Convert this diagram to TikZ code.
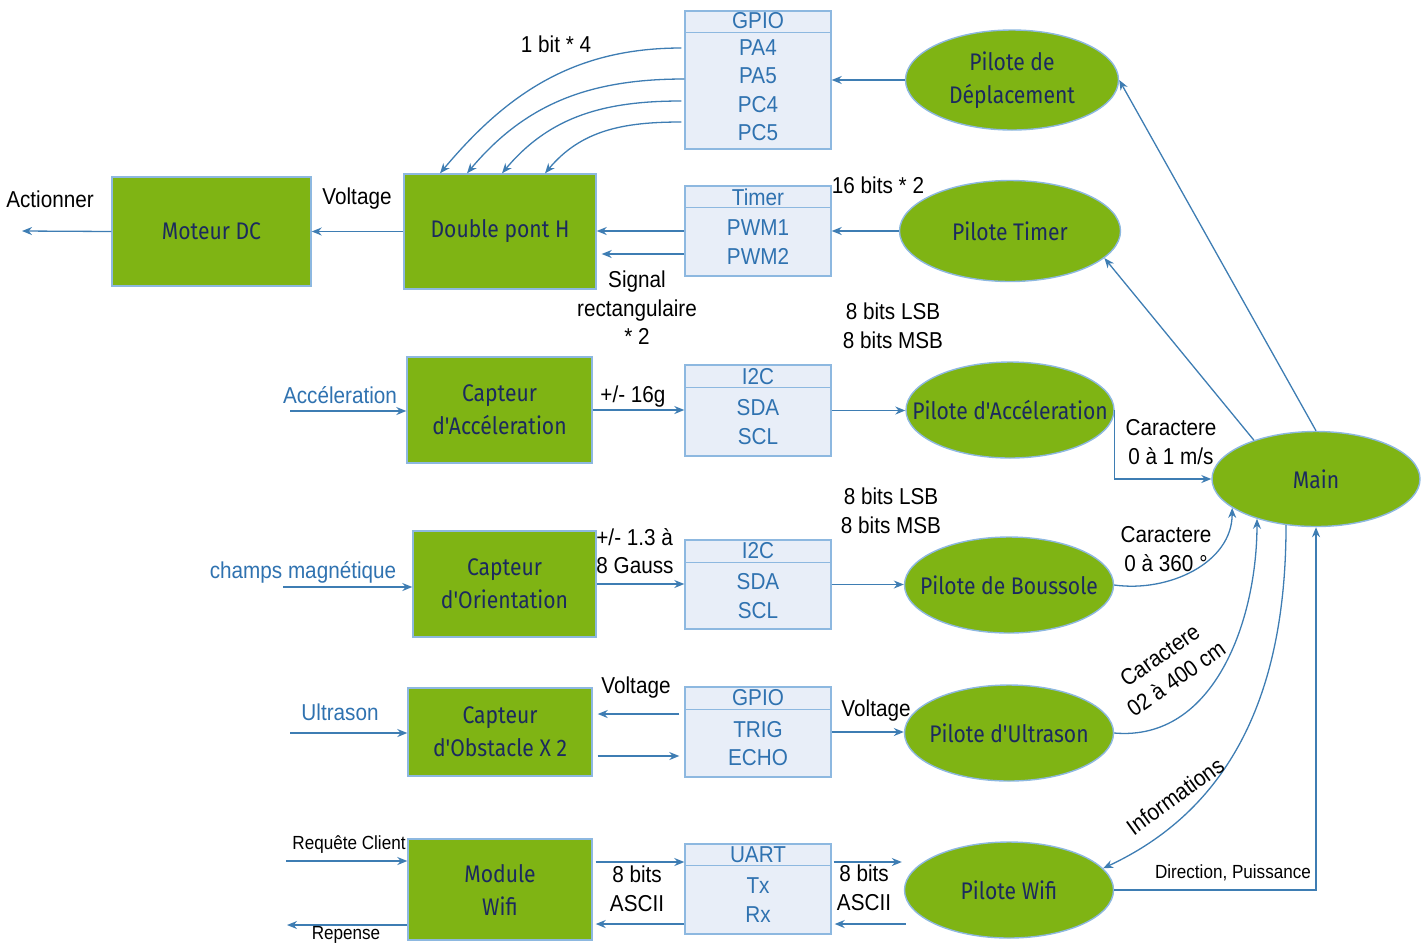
\documentclass[tikz,border=0pt]{standalone}
\usepackage{fontspec}
\setmainfont{Liberation Sans}[FakeStretch=0.9]
\newfontfamily\greenfont{Fira Sans}[FakeStretch=0.88]
\usetikzlibrary{shapes.geometric,arrows.meta,calc}
\definecolor{leaf}{HTML}{7FB414}
\definecolor{navy}{HTML}{1B2A5E}
\definecolor{edgeblue}{HTML}{8DB8E0}
\definecolor{portfill}{HTML}{E8EEF8}
\definecolor{portblue}{HTML}{2F72B0}
\definecolor{wire}{HTML}{3E7DB3}
\tikzset{
  greentxt/.style={text=navy, align=center, inner sep=0pt,
    font=\greenfont\fontsize{12}{16.5}\selectfont},
  greenbox/.style={draw=edgeblue, fill=leaf, line width=0.7pt, inner sep=0pt, greentxt},
  greenell/.style={draw=edgeblue, fill=leaf, line width=0.7pt, inner sep=0pt, ellipse,
    label={[greentxt]center:#1}},
  portbox/.style={draw=edgeblue, fill=portfill, line width=0.7pt, inner sep=0pt, minimum width=73pt},
  portline/.style={draw=edgeblue, line width=0.7pt},
  porttxt/.style={text=portblue, align=center, inner sep=0pt, font=\fontsize{11.5}{14.25}\selectfont},
  lbl/.style={align=center, inner sep=0pt, font=\fontsize{11.5}{14.25}\selectfont},
  bluelbl/.style={lbl, text=portblue},
  smalllbl/.style={inner sep=0pt, font=\fontsize{9.5}{11}\selectfont},
  arr/.style={draw=wire, line width=0.65pt, -{Stealth[length=5pt,width=4pt]}},
}
\begin{document}
\begin{tikzpicture}[x=0.5pt,y=-0.5pt]
\useasboundingbox (0,0) rectangle (1428,944);

% ---------- green blocks ----------
\node[greenbox, minimum width=99.5pt, minimum height=54.5pt] (moteur) at (211.5,231.5) {Moteur DC};
\node[greenbox, minimum width=96pt, minimum height=57.5pt] (pont) at (500,231.5) {Double pont H};
\node[greenbox, minimum width=92.5pt, minimum height=53pt] (accel) at (499.5,410) {Capteur\\d'Accéleration};
\node[greenbox, minimum width=91.5pt, minimum height=53pt] (orient) at (504.5,584) {Capteur\\d'Orientation};
\node[greenbox, minimum width=92pt, minimum height=44pt] (obst) at (500,732) {Capteur\\d'Obstacle X 2};
\node[greenbox, minimum width=92pt, minimum height=50.5pt] (wifi) at (500,889.5) {Module\\Wifi};

% ---------- drivers (ellipses, text set as centred label) ----------
\node[greenell={Pilote de\\Déplacement}, minimum width=106.5pt, minimum height=50pt] (pDep) at (1012,80) {};
\node[greenell={Pilote Timer}, minimum width=110.5pt, minimum height=50.5pt] (pTimer) at (1010,231) {};
\node[greenell={Pilote d'Accéleration}, minimum width=104pt, minimum height=48pt] (pAcc) at (1010,410) {};
\node[greenell={Main}, minimum width=104pt, minimum height=47.5pt] (main) at (1316,479) {};
\node[greenell={Pilote de Boussole}, minimum width=104.5pt, minimum height=48pt] (pBous) at (1009,585) {};
\node[greenell={Pilote d'Ultrason}, minimum width=104.5pt, minimum height=48pt] (pUltra) at (1009,733) {};
\node[greenell={Pilote Wifi}, minimum width=104.5pt, minimum height=48pt] (pWifi) at (1009,890) {};

% ---------- peripheral boxes ----------
\node[portbox, minimum height=69pt] (gpioA) at (758,80) {};
\draw[portline] ($(gpioA.north west)+(0,22)$) -- ($(gpioA.north east)+(0,22)$);
\node[porttxt] at (758,21) {GPIO};
\node[porttxt] at (758,90) {PA4\\PA5\\PC4\\PC5};

\node[portbox, minimum height=45pt] (timer) at (758,231) {};
\draw[portline] ($(timer.north west)+(0,22)$) -- ($(timer.north east)+(0,22)$);
\node[porttxt] at (758,197) {Timer};
\node[porttxt] at (758,242) {PWM1\\PWM2};

\node[portbox, minimum height=45.5pt] (i2cA) at (758,410.5) {};
\draw[portline] ($(i2cA.north west)+(0,23)$) -- ($(i2cA.north east)+(0,23)$);
\node[porttxt] at (758,377) {I2C};
\node[porttxt] at (758,422) {SDA\\SCL};

\node[portbox, minimum height=44.5pt] (i2cB) at (758,584.5) {};
\draw[portline] ($(i2cB.north west)+(0,23)$) -- ($(i2cB.north east)+(0,23)$);
\node[porttxt] at (758,551) {I2C};
\node[porttxt] at (758,596) {SDA\\SCL};

\node[portbox, minimum height=45pt] (gpioB) at (758,732) {};
\draw[portline] ($(gpioB.north west)+(0,23)$) -- ($(gpioB.north east)+(0,23)$);
\node[porttxt] at (758,698) {GPIO};
\node[porttxt] at (758,743.5) {TRIG\\ECHO};

\node[portbox, minimum height=45pt] (uart) at (758,889) {};
\draw[portline] ($(uart.north west)+(0,22)$) -- ($(uart.north east)+(0,22)$);
\node[porttxt] at (758,855) {UART};
\node[porttxt] at (758,900) {Tx\\Rx};

% ---------- free ends ----------
\coordinate (actOut) at (22,231);
\coordinate (accIn) at (290,411);
\coordinate (magIn) at (283,587);
\coordinate (usIn) at (290,733);
\coordinate (reqIn) at (286,861);
\coordinate (repOut) at (287,925);
\coordinate (rowTx) at (0,862);
\coordinate (rowRx) at (0,924);

% ---------- motor chain ----------
\draw[arr] (moteur.west) -- (actOut);
\draw[arr] (pont.west) -- (pont.west -| moteur.east);
\draw[arr] (timer.west) -- (timer.west -| pont.east);
\draw[arr] ($(timer.west)+(0,23)$) -- ($(timer.west -| pont.east)+(5,23)$);
\draw[arr] (pTimer.west) -- (timer.east);
\draw[arr] (pDep.west) -- (pDep.west -| gpioA.east);
\draw[arr] ($(gpioA.west)+(-3,-32)$) to[out=180,in=50] ($(pont.north)+(-60,0)$);
\draw[arr] ($(gpioA.west)+(0,-1)$) to[out=180,in=50] ($(pont.north)+(-33,0)$);
\draw[arr] ($(gpioA.west)+(-3,21)$) to[out=180,in=50] ($(pont.north)+(2,0)$);
\draw[arr] ($(gpioA.west)+(-3,42)$) to[out=180,in=50] ($(pont.north)+(45,0)$);

% ---------- accelerometer ----------
\draw[arr] (accIn) -- (accIn -| accel.west);
\draw[arr] (accel.east) -- (accel.east -| i2cA.west);
\draw[arr] (i2cA.east) -- (i2cA.east -| pAcc.west);
\draw[arr] (pAcc.east) |- (main.west);

% ---------- compass ----------
\draw[arr] (magIn) -- (magIn -| orient.west);
\draw[arr] (orient.east) -- (orient.east -| i2cB.west);
\draw[arr] (i2cB.east) -- (i2cB.east -| pBous.west);
\draw[arr] (pBous.east) to[out=-8,in=270] (main.199);

% ---------- ultrasound ----------
\draw[arr] (usIn) -- (usIn -| obst.west);
\draw[arr] ($(gpioB.west)+(-5,-18)$) -- ($(obst.east)+(5,-18)$);
\draw[arr] ($(obst.east)+(5,24)$) -- ($(gpioB.west)+(-5,24)$);
\draw[arr] (gpioB.east) -- (gpioB.east -| pUltra.west);
\draw[arr] (pUltra.east) to[out=-5,in=270] (main.214);

% ---------- wifi ----------
\draw[arr] (reqIn) -- (reqIn -| wifi.west);
\draw[arr] (wifi.west |- repOut) -- (repOut);
\draw[arr] ($(wifi.east |- rowTx)+(3,0)$) -- (uart.west |- rowTx);
\draw[arr] (uart.west |- rowRx) -- ($(wifi.east |- rowRx)+(3,0)$);
\draw[arr] ($(uart.east |- rowTx)+(2,0)$) -- ($(pWifi.west |- rowTx)+(-2,0)$);
\draw[arr] ($(pWifi.west |- rowRx)+(2,0)$) -- ($(uart.east |- rowRx)+(3,0)$);
\draw[arr] (main.237) to[out=270,in=25] (pWifi.13);
\draw[arr] (pWifi.east) -| (main.south);

% ---------- main to drivers ----------
\draw[arr] (main.north) -- (pDep.east);
\draw[arr] (main.148) -- (pTimer.-16);

% ---------- labels ----------
\node[lbl] at (50,199) {Actionner};
\node[lbl] at (357,199) {Voltage};
\node[lbl] at (556,44) {1 bit * 4};
\node[lbl] at (878,185) {16 bits * 2};
\node[lbl] at (637,308) {Signal\\rectangulaire\\* 2};
\node[lbl] at (893,326) {8 bits LSB\\8 bits MSB};
\node[bluelbl] at (340,395) {Accéleration};
\node[lbl] at (633,397) {+/- 16g};
\node[lbl] at (1171,442) {Caractere\\0 à 1 m/s};
\node[lbl] at (891,511) {8 bits LSB\\8 bits MSB};
\node[bluelbl] at (303,572) {champs magnétique};
\node[lbl, align=left, anchor=west] at (596,551) {+/- 1.3 à\\8 Gauss};
\node[lbl] at (1166,549) {Caractere\\0 à 360 °};
\node[lbl, rotate=35] at (1168,667) {Caractere\\02 à 400 cm};
\node[bluelbl] at (340,712) {Ultrason};
\node[lbl] at (636,688) {Voltage};
\node[lbl] at (876,711) {Voltage};
\node[lbl, rotate=36] at (1175,796) {Informations};
\node[smalllbl] at (349,845) {Requête Client};
\node[smalllbl] at (346,935) {Repense};
\node[lbl] at (637,889) {8 bits\\ASCII};
\node[lbl] at (864,888) {8 bits\\ASCII};
\node[smalllbl] at (1233,873) {Direction, Puissance};
\end{tikzpicture}
\end{document}
